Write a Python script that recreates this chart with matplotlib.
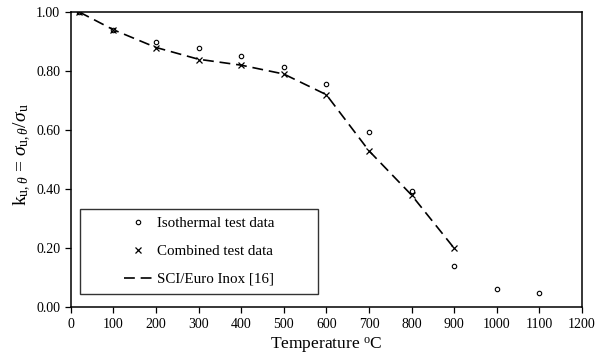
import matplotlib
matplotlib.use("Agg")
import matplotlib.pyplot as plt
from matplotlib.patches import Rectangle
from matplotlib.ticker import FormatStrFormatter

# data
iso_temp = [20, 100, 200, 300, 400, 500, 600, 700, 800, 900, 1000, 1100]
iso_k = [1.00, 0.94, 0.90, 0.877, 0.852, 0.814, 0.756, 0.595, 0.395, 0.14, 0.063, 0.05]

comb_temp = [20, 100, 200, 300, 400, 500, 600, 700, 800, 900]
comb_k = [1.00, 0.94, 0.879, 0.839, 0.819, 0.789, 0.72, 0.528, 0.38, 0.20]

sci_temp = [20, 100, 200, 300, 400, 500, 600, 700, 800, 900]
sci_k = [1.00, 0.94, 0.88, 0.84, 0.82, 0.79, 0.72, 0.53, 0.38, 0.20]

x_ticks = list(range(0, 1201, 100))
y_ticks = [0.0, 0.2, 0.4, 0.6, 0.8, 1.0]

plt.rcParams['font.family'] = ['Liberation Serif', 'DejaVu Serif']
plt.rcParams['mathtext.fontset'] = 'custom'
plt.rcParams['mathtext.rm'] = 'Liberation Serif'
plt.rcParams['mathtext.it'] = 'Liberation Serif:italic'

fig = plt.figure(figsize=(6.06, 3.64), dpi=100)
ax = fig.add_axes([70.7 / 606, 1 - 307.3 / 364, (582 - 70.7) / 606, (307.3 - 12) / 364])

ax.plot(sci_temp, sci_k, color='black', lw=1.2, dashes=(6.5, 3.5),
        label='SCI/Euro Inox [16]')
ax.plot(iso_temp, iso_k, ls='none', marker='o', ms=3.2, mfc='white',
        mec='black', mew=0.8, label='Isothermal test data')
ax.plot(comb_temp, comb_k, ls='none', marker='x', ms=5, mec='black',
        mew=0.9, label='Combined test data')

ax.set_xlim(0, 1200)
ax.set_ylim(0, 1.0)
ax.set_xticks(x_ticks)
ax.set_yticks(y_ticks)
ax.yaxis.set_major_formatter(FormatStrFormatter('%.2f'))
ax.tick_params(direction='out', length=4.5, width=0.9, labelsize=10, pad=3,
               top=False, right=False, colors='black')
for s in ax.spines.values():
    s.set_linewidth(1.1)
    s.set_color('black')

ax.set_xlabel('Temperature $^{\\mathrm{o}}$C', fontsize=12.5, labelpad=4)
ax.set_ylabel(r'$\mathrm{k}_{\mathrm{u},\theta}$ = $\sigma_{\mathrm{u},\theta}/\sigma_{\mathrm{u}}$',
              fontsize=14)
ax.yaxis.set_label_coords(-0.074, 0.516)

# legend box drawn separately so the entries sit centred inside it
x0, x1 = 0.018, 0.483
y0, y1 = 0.045, 0.333
ax.add_patch(Rectangle((x0, y0), x1 - x0, y1 - y0, transform=ax.transAxes,
                       fill=True, facecolor='white', edgecolor='#333333',
                       lw=1.0, zorder=4))
handles, labels = ax.get_legend_handles_labels()
order = [1, 2, 0]
leg = ax.legend([handles[i] for i in order], [labels[i] for i in order],
                loc='center', bbox_to_anchor=((x0 + x1) / 2, (y0 + y1) / 2),
                frameon=False, fontsize=10.8, labelspacing=0.95,
                handlelength=1.9, handletextpad=0.3, borderaxespad=0)
leg.set_zorder(5)

fig.savefig('out.png', dpi=100)
